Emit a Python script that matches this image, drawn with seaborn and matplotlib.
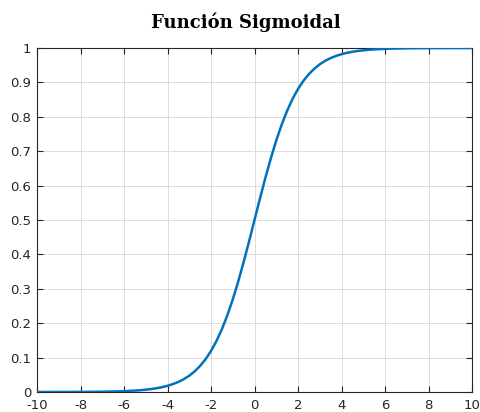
import numpy as np
import pandas as pd
import matplotlib
matplotlib.use("Agg")
import matplotlib.pyplot as plt
import seaborn as sns

# Sampled points of the logistic curve (step 0.25)
x_vals = [-10.0, -9.75, -9.5, -9.25, -9.0, -8.75, -8.5, -8.25, -8.0, -7.75,
          -7.5, -7.25, -7.0, -6.75, -6.5, -6.25, -6.0, -5.75, -5.5, -5.25,
          -5.0, -4.75, -4.5, -4.25, -4.0, -3.75, -3.5, -3.25, -3.0, -2.75,
          -2.5, -2.25, -2.0, -1.75, -1.5, -1.25, -1.0, -0.75, -0.5, -0.25,
          0.0,
          0.25, 0.5, 0.75, 1.0, 1.25, 1.5, 1.75, 2.0, 2.25, 2.5,
          2.75, 3.0, 3.25, 3.5, 3.75, 4.0, 4.25, 4.5, 4.75, 5.0,
          5.25, 5.5, 5.75, 6.0, 6.25, 6.5, 6.75, 7.0, 7.25, 7.5,
          7.75, 8.0, 8.25, 8.5, 8.75, 9.0, 9.25, 9.5, 9.75, 10.0]
y_vals = [0.0000, 0.0001, 0.0001, 0.0001, 0.0001, 0.0002, 0.0002, 0.0003, 0.0003, 0.0004,
          0.0006, 0.0007, 0.0009, 0.0012, 0.0015, 0.0019, 0.0025, 0.0032, 0.0041, 0.0052,
          0.0067, 0.0086, 0.0110, 0.0141, 0.0180, 0.0230, 0.0293, 0.0373, 0.0474, 0.0601,
          0.0759, 0.0953, 0.1192, 0.1480, 0.1824, 0.2227, 0.2689, 0.3208, 0.3775, 0.4378,
          0.5000,
          0.5622, 0.6225, 0.6792, 0.7311, 0.7773, 0.8176, 0.8520, 0.8808, 0.9047, 0.9241,
          0.9399, 0.9526, 0.9627, 0.9707, 0.9770, 0.9820, 0.9859, 0.9890, 0.9914, 0.9933,
          0.9948, 0.9959, 0.9968, 0.9975, 0.9981, 0.9985, 0.9988, 0.9991, 0.9993, 0.9994,
          0.9996, 0.9997, 0.9997, 0.9998, 0.9998, 0.9999, 0.9999, 0.9999, 0.9999, 1.0000]

x_ticks = [-10, -8, -6, -4, -2, 0, 2, 4, 6, 8, 10]
x_tick_labels = ["-10", "-8", "-6", "-4", "-2", "0", "2", "4", "6", "8", "10"]
y_ticks = [0, 0.1, 0.2, 0.3, 0.4, 0.5, 0.6, 0.7, 0.8, 0.9, 1]
y_tick_labels = ["0", "0.1", "0.2", "0.3", "0.4", "0.5", "0.6", "0.7", "0.8", "0.9", "1"]
title_text = "Función Sigmoidal"

df = pd.DataFrame({"x": x_vals, "y": y_vals})

sns.set_style("white")
plt.rcParams["font.family"] = ["DejaVu Sans"]

fig = plt.figure(figsize=(4.8, 4.12), dpi=100)
ax = fig.add_axes([37 / 480, 1 - 392 / 412, (472 - 37) / 480, (392 - 48) / 412])

sns.lineplot(data=df, x="x", y="y", ax=ax, color="#0072BD", linewidth=1.8,
             zorder=3, solid_joinstyle="round")

ax.set_xlim(-10, 10)
ax.set_ylim(0, 1)
ax.set_xticks(x_ticks)
ax.set_xticklabels(x_tick_labels)
ax.set_yticks(y_ticks)
ax.set_yticklabels(y_tick_labels)
ax.set_xlabel("")
ax.set_ylabel("")

ax.grid(True, color="#dcdcdc", linewidth=0.7, zorder=0)
ax.set_axisbelow(True)
for side in ["left", "right", "top", "bottom"]:
    ax.spines[side].set_visible(True)
    ax.spines[side].set_color("#262626")
    ax.spines[side].set_linewidth(0.8)

ax.tick_params(axis="both", which="both", direction="in", length=4, width=0.8,
               color="#262626", labelsize=9.5, labelcolor="#262626",
               top=True, right=True, bottom=True, left=True)
ax.tick_params(axis="x", pad=5)
ax.tick_params(axis="y", pad=4)

fig.text(245.5 / 480, 1 - 27.5 / 412, title_text,
         ha="center", va="baseline", fontsize=13, fontweight="bold",
         family=["DejaVu Serif"], color="#000000")

fig.savefig("out.png", dpi=100)
